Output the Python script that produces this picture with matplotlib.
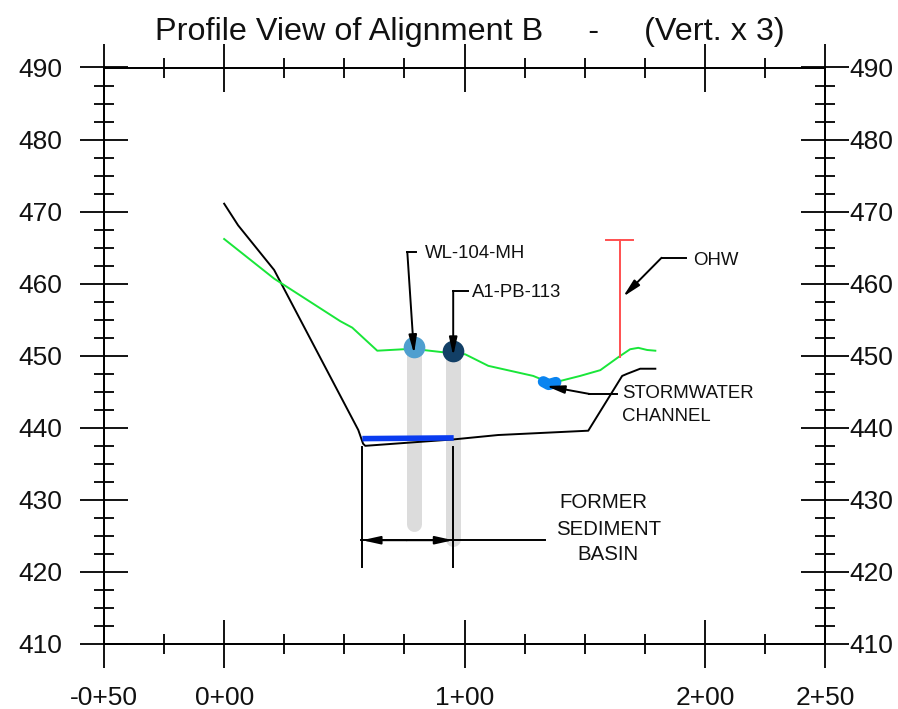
import matplotlib
matplotlib.use("Agg")
import matplotlib.pyplot as plt

plt.rcParams["font.family"] = ["Liberation Sans", "DejaVu Sans"]

# profile lines, station [ft] / elevation [ft]
ground_x = [0, 5.8, 20.8, 55.8, 57.8, 58.7, 95.7, 114, 151.5, 165.6, 167.7, 173.1, 179.4]
ground_y = [471.1, 468.1, 461.9, 439.7, 437.8, 437.5, 438.4, 439.0, 439.6, 447.2, 447.5, 448.2, 448.2]
surface_x = [0, 20.8, 48.3, 53.3, 63.7, 74.5, 82.8, 90.7, 100.3, 109.9, 128.6, 131.5,
             139.8, 148.1, 156.5, 164, 168.9, 172.3, 176, 179.4]
surface_y = [466.2, 460.7, 454.8, 453.9, 450.7, 450.9, 450.8, 450.5, 450.2, 448.6, 447.2, 446.8,
             446.5, 447.2, 448.0, 449.8, 450.9, 451.1, 450.8, 450.7]
basin_x = [57.5, 95.5]
basin_y = [438.5, 438.6]
channel_x = [132.8, 135.0, 138.0]
channel_y = [446.4, 446.0, 446.3]

# wells
well_names = ["WL-104-MH", "A1-PB-113"]
well_x = [79, 95.3]
well_top = [451.2, 450.7]
well_bottom = [426.6, 424.6]
well_colors = ["#4F9FCF", "#123F66"]

ohw_x = 164.5
ohw_top = 466.0
ohw_bottom = 449.8

major_x = [-50, 0, 100, 200, 250]
minor_x = [-25, 25, 50, 75, 125, 150, 175, 225]
x_labels = ["-0+50", "0+00", "1+00", "2+00", "2+50"]
major_y = [410, 420, 430, 440, 450, 460, 470, 480, 490]
minor_y = [y + d for y in major_y[:-1] for d in (2.5, 5, 7.5)]

fig = plt.figure(figsize=(8.98, 7.09), dpi=100)
ax = fig.add_axes([104 / 898, 1 - 644 / 709, 721 / 898, 576.5 / 709])
ax.set_xlim(-50, 250)
ax.set_ylim(410, 490)

ax.set_xticks(major_x)
ax.set_xticklabels(x_labels)
ax.set_xticks(minor_x, minor=True)
ax.set_yticks(major_y)
ax.set_yticks(minor_y, minor=True)
ax.tick_params(which="major", direction="inout", length=34.6, width=1.3, top=True,
               right=False, labelsize=19, pad=13, labelcolor="#111111")
ax.tick_params(which="minor", direction="inout", length=15, width=1.3, top=True, right=False)

ax2 = ax.twinx()
ax2.set_ylim(410, 490)
ax2.set_yticks(major_y)
ax2.set_yticks(minor_y, minor=True)
ax2.tick_params(which="major", direction="inout", length=34.6, width=1.3, labelsize=19, pad=0,
                labelcolor="#111111")
ax2.tick_params(which="minor", direction="inout", length=15, width=1.3)

for a in (ax, ax2):
    for s in a.spines.values():
        s.set_linewidth(1.3)

fig.text(0.5235, 0.9545, "Profile View of Alignment B     -     (Vert. x 3)",
         ha="center", va="center", fontsize=23.3, color="#111111")

# wells first so the lines sit on top
for i in range(2):
    ax.plot([well_x[i], well_x[i]], [well_top[i], well_bottom[i]], color="#DCDCDC", lw=10.8,
            solid_capstyle="round", zorder=1)
ax.plot(ground_x, ground_y, color="black", lw=1.4, zorder=2)
ax.plot(surface_x, surface_y, color="#19E639", lw=1.4, zorder=2)
ax.plot(basin_x, basin_y, color="#0A3CF0", lw=4, solid_capstyle="butt", zorder=3)
ax.plot(channel_x, channel_y, color="#0A84F0", lw=8, solid_capstyle="round", zorder=3)
ax.plot([ohw_x, ohw_x], [ohw_top, ohw_bottom], color="#FF5050", lw=1.4, zorder=2)
ax.plot([159, 170], [ohw_top, ohw_top], color="#FF5050", lw=1.4, zorder=2)
for i in range(2):
    ax.plot(well_x[i], well_top[i], "o", color=well_colors[i], ms=15.6, mew=0, zorder=4)

head = dict(arrowstyle="-|>,head_length=0.9,head_width=0.2", color="black", lw=1.4,
            shrinkA=0, shrinkB=0, mutation_scale=12)
txt = dict(fontsize=13.4, color="#111111", va="center")


def leader(points, name=None, where=None, **kw):
    # polyline ending in a filled arrow head
    xs = [p[0] for p in points[:-1]]
    ys = [p[1] for p in points[:-1]]
    ax.plot(xs, ys, color="black", lw=1.4, zorder=5)
    ax.annotate("", xy=points[-1], xytext=points[-2], arrowprops=head, zorder=5)
    if name:
        ax.text(where[0], where[1], name, **txt, **kw)


leader([(80, 464.4), (76.2, 464.4), (79, 450.3)], well_names[0], (83.6, 464.2))
leader([(101.6, 459.0), (95.3, 459.0), (95.3, 450.0)], well_names[1], (103.3, 458.8))
leader([(192, 463.6), (182, 463.6), (166, 458.2)], "OHW", (195, 463.2))
leader([(163.5, 444.7), (152, 444.7), (134, 445.8)], "STORMWATER", (165.6, 444.7))
ax.text(165.6, 441.6, "CHANNEL", **txt)

# former basin dimension
dim_x = [57.4, 95.3]
dim_top = 437.3
dim_bottom = 420.7
dim_y = 424.4
for x in dim_x:
    ax.plot([x, x], [dim_top, dim_bottom], color="black", lw=1.4, zorder=5)
ax.plot([56.8, 133.6], [dim_y, dim_y], color="black", lw=1.4, zorder=5)
ax.annotate("", xy=(dim_x[0], dim_y), xytext=(76, dim_y), arrowprops=head, zorder=5)
ax.annotate("", xy=(dim_x[1], dim_y), xytext=(76, dim_y), arrowprops=head, zorder=5)
former = dict(txt, fontsize=14.7)
ax.text(157.8, 429.7, "FORMER", ha="center", **former)
ax.text(159.8, 425.9, "SEDIMENT", ha="center", **former)
ax.text(159.8, 422.4, "BASIN", ha="center", **former)

fig.savefig("out.png", dpi=100)
